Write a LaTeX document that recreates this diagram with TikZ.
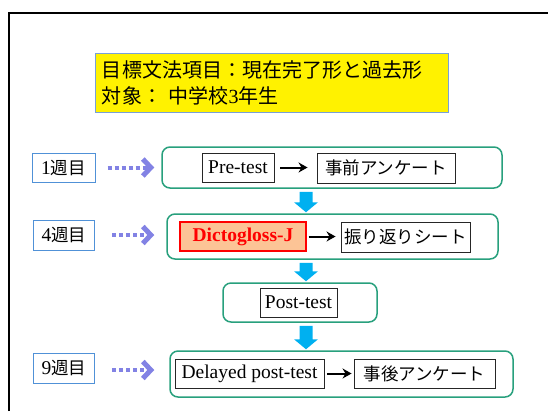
\documentclass[tikz,border=0pt]{standalone}
\usepackage{fontspec}
\setmainfont{Liberation Serif}
\newfontfamily\jpf{Noto Sans CJK JP}
\usetikzlibrary{arrows.meta,calc}
\definecolor{grn}{RGB}{40,160,125}
\definecolor{wkblue}{RGB}{80,145,215}
\definecolor{ttlblue}{RGB}{120,160,215}
\definecolor{purp}{RGB}{130,130,228}
\definecolor{arrblue}{RGB}{0,176,240}
\definecolor{dgfill}{RGB}{252,196,150}
\newcommand\J[1]{{\jpf\fontsize{17.5bp}{22bp}\selectfont #1}}
\newcommand\bluearr[2]{%
  \fill[arrblue] ($(ax |- #1.south)+(-6.5,3)$) -- ($(ax |- #1.south)+(6.5,3)$)
    -- ($(ax |- #2.north)+(6.5,-11)$) -- ($(ax |- #2.north)+(12,-11)$)
    -- ($(ax |- #2.north)+(0,-1)$) -- ($(ax |- #2.north)+(-12,-11)$)
    -- ($(ax |- #2.north)+(-6.5,-11)$) -- cycle;}
\begin{document}
\begin{tikzpicture}[x=1bp,y=-1bp,
  font=\fontsize{19.5bp}{23bp}\selectfont,
  weekbox/.style={draw=wkblue, line width=1bp, inner sep=0, minimum width=61bp, minimum height=30bp},
  gbox/.style={draw=grn, line width=1.5bp, rounded corners=8bp, inner sep=0},
  ibox/.style={draw=black!85, line width=0.9bp, inner sep=0, minimum height=29bp},
  blk/.style={line width=2bp, -{Stealth[length=9bp,width=10bp]}},
  dotarr/.style={draw=purp, line width=4bp, dash pattern=on 4bp off 3bp,
     -{Straight Barb[length=8bp,width=17bp,line width=5bp]}},
]
\useasboundingbox (0,0) rectangle (548,411);
\coordinate (ax) at (306,0);
% frame
\draw[line width=1.3bp] (9,411) -- (9,13) -- (548,13);
% title
\node[draw=ttlblue, fill=yellow, line width=1bp, minimum width=352bp, minimum height=59bp,
  text width=340bp, align=left, inner sep=0, font=\jpf\fontsize{20bp}{26bp}\selectfont]
  (title) at (272,82.5) {目標文法項目：現在完了形と過去形\\対象： 中学校{\rmfamily 3}年生};
% week boxes
\node[weekbox, minimum width=63bp, minimum height=29bp] (w1) at (63.5,167.5) {1\J{週目}};
\node[weekbox] (w4) at (64,235) {4\J{週目}};
\node[weekbox] (w9) at (64,368) {9\J{週目}};
% green boxes
\node[gbox, minimum width=340bp, minimum height=41bp] (g1) at (332,167.5) {};
\node[gbox, minimum width=331bp, minimum height=45bp] (g2) at (332.5,236.5) {};
\node[gbox, minimum width=154bp, minimum height=39bp] (g3) at (300,302.5) {};
\node[gbox, minimum width=343bp, minimum height=46bp] (g4) at (341.5,374) {};
% inner boxes
\node[ibox, minimum width=72bp] (pre) at (238,167.5) {Pre-test};
\node[ibox, minimum width=138bp, minimum height=30bp] (q1) at (386,168) {\J{事前アンケート}};
\node[ibox, draw=red, line width=1.2bp, fill=dgfill, minimum width=126bp, text=red,
  font=\fontsize{19.5bp}{23bp}\selectfont\bfseries] (dg) at (243,236.5) {Dictogloss-J};
\node[ibox, minimum width=129bp, minimum height=30bp] (fs) at (405.5,237) {\J{振り返りシート}};
\node[ibox, minimum width=77bp] (post) at (298.5,302.5) {Post-test};
\node[ibox, minimum width=149bp] (dp) at (249.5,373.5) {Delayed post-test};
\node[ibox, minimum width=141bp] (q2) at (424.5,373.5) {\J{事後アンケート}};
% black arrows
\draw[blk, shorten <=6bp, shorten >=9bp] (pre.east) -- (pre.east -| q1.west);
\draw[blk, shorten <=2bp, shorten >=5bp] (dg.east) -- (dg.east -| fs.west);
\draw[blk, shorten <=3bp, shorten >=2bp] (dp.east) -- (dp.east -| q2.west);
% dotted arrows
\draw[dotarr, shorten <=12bp, shorten >=7bp] (w1.east) -- (w1.east -| g1.west);
\draw[dotarr, shorten <=17bp, shorten >=12bp] (w4.east) -- (w4.east -| g2.west);
\draw[dotarr, shorten <=17bp, shorten >=15bp] ($(w9.east)+(0,2)$) coordinate (w9e) -- (w9e -| g4.west);
% blue arrows
\bluearr{g1}{g2}
\bluearr{g2}{g3}
\bluearr{g3}{g4}
\end{tikzpicture}
\end{document}
